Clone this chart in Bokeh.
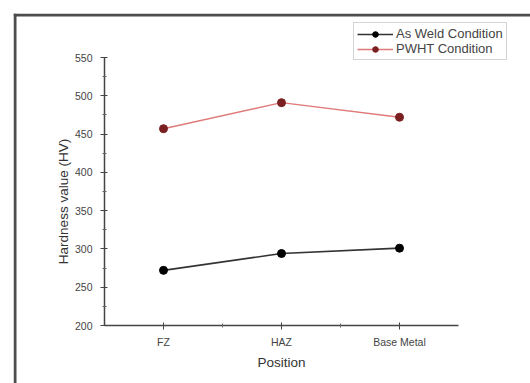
import math
from bokeh.plotting import figure
from bokeh.models import Range1d, FixedTicker, Legend, LegendItem, Span, Label
from bokeh.embed import file_html
from bokeh.resources import INLINE

positions = ["FZ", "HAZ", "Base Metal"]
as_weld = [272, 294, 301]
pwht = [457, 491, 472]
y_ticks = [200, 250, 300, 350, 400, 450, 500, 550]

xs = list(range(1, len(positions) + 1))

FONT = "Liberation Sans"
EDGE = "#4d4d4d"

# ---- layout geometry (page pixels; Bokeh's page has no body margin) ----
W, H = 530, 383
FR_L, FR_T, FR_R, FR_B = 13, 13, 530, 383   # frame = page frame area
X1_PX, X_STEP = 163.0, 118.0     # where category 1 sits, px per category
Y200_PX, Y_SCALE = 325.0, 268.0 / 350.0     # where 200 sits, px per unit


def dx(px):
    return 1 + (px - X1_PX) / X_STEP


def dy(py):
    return 200 + (Y200_PX - py) / Y_SCALE


p = figure(width=W, height=H, output_backend="svg", toolbar_location=None,
           x_range=Range1d(dx(FR_L), dx(FR_R)), y_range=Range1d(dy(FR_B), dy(FR_T)),
           min_border_left=FR_L, min_border_top=FR_T,
           min_border_right=0, min_border_bottom=0)
p.outline_line_color = None
p.grid.visible = False
p.background_fill_color = "white"
p.border_fill_color = "white"

# page frame (top and left edges)
p.add_layout(Span(location=dy(FR_T + 1.5), dimension="width", line_color=EDGE, line_width=3))
p.add_layout(Span(location=dx(FR_L + 1.5), dimension="height", line_color=EDGE, line_width=3))

# axes drawn at fixed data locations inside the frame
xa, ya = p.xaxis[0], p.yaxis[0]
xa.fixed_location = y_ticks[0]
ya.fixed_location = 0.5
xa.ticker = FixedTicker(ticks=xs, minor_ticks=[1.5, 2.5])
xa.major_label_overrides = {x: name for x, name in zip(xs, positions)}
xa.bounds = (0.5, len(positions) + 0.5)
ya.ticker = FixedTicker(ticks=y_ticks, minor_ticks=[t + 25 for t in y_ticks[:-1]])
ya.bounds = (y_ticks[0], y_ticks[-1])
for ax in (xa, ya):
    ax.axis_line_color = "#444444"
    ax.axis_line_width = 1.5
    ax.major_tick_line_color = "#444444"
    ax.minor_tick_line_color = "#666666"
    ax.major_tick_in = 3
    ax.major_tick_out = 4
    ax.minor_tick_in = 2
    ax.minor_tick_out = 2
    ax.major_label_text_font = FONT
    ax.major_label_text_font_size = "10.5px"
    ax.major_label_text_color = "#444444"
xa.major_label_standoff = 6
ya.major_label_standoff = 8
xa.axis_label = "Position"
xa.axis_label_text_font = FONT
xa.axis_label_text_font_size = "13.5px"
xa.axis_label_text_font_style = "normal"
xa.axis_label_text_color = "#333333"
xa.axis_label_standoff = 4

p.add_layout(Label(x=dx(63), y=dy(201), text="Hardness value (HV)", angle=math.pi / 2,
                   text_align="center", text_baseline="middle",
                   text_font=FONT, text_font_size="13.5px", text_color="#333333"))

l1 = p.line(xs, as_weld, line_color="#333333", line_width=1.6)
m1 = p.scatter(xs, as_weld, size=8, fill_color="black", line_color="black")
l2 = p.line(xs, pwht, line_color="#e07a7a", line_width=1.4)
m2 = p.scatter(xs, pwht, size=8, fill_color="#7a2020", line_color="#7a2020")

legend = Legend(items=[LegendItem(label="As Weld Condition", renderers=[l1, m1]),
                       LegendItem(label="PWHT Condition", renderers=[l2, m2])],
                location=(353 - FR_L, FR_B - 60))
legend.label_text_font = FONT
legend.label_text_font_size = "13px"
legend.label_text_color = "#444444"
legend.glyph_width = 36
legend.glyph_height = 14
legend.label_height = 14
legend.label_standoff = 3
legend.spacing = 0
legend.padding = 3
legend.margin = 0
legend.border_line_color = "#aaaaaa"
legend.border_line_width = 1
legend.background_fill_color = "white"
legend.background_fill_alpha = 1
p.add_layout(legend, "center")

open("out.html", "w").write(file_html(p, INLINE))
